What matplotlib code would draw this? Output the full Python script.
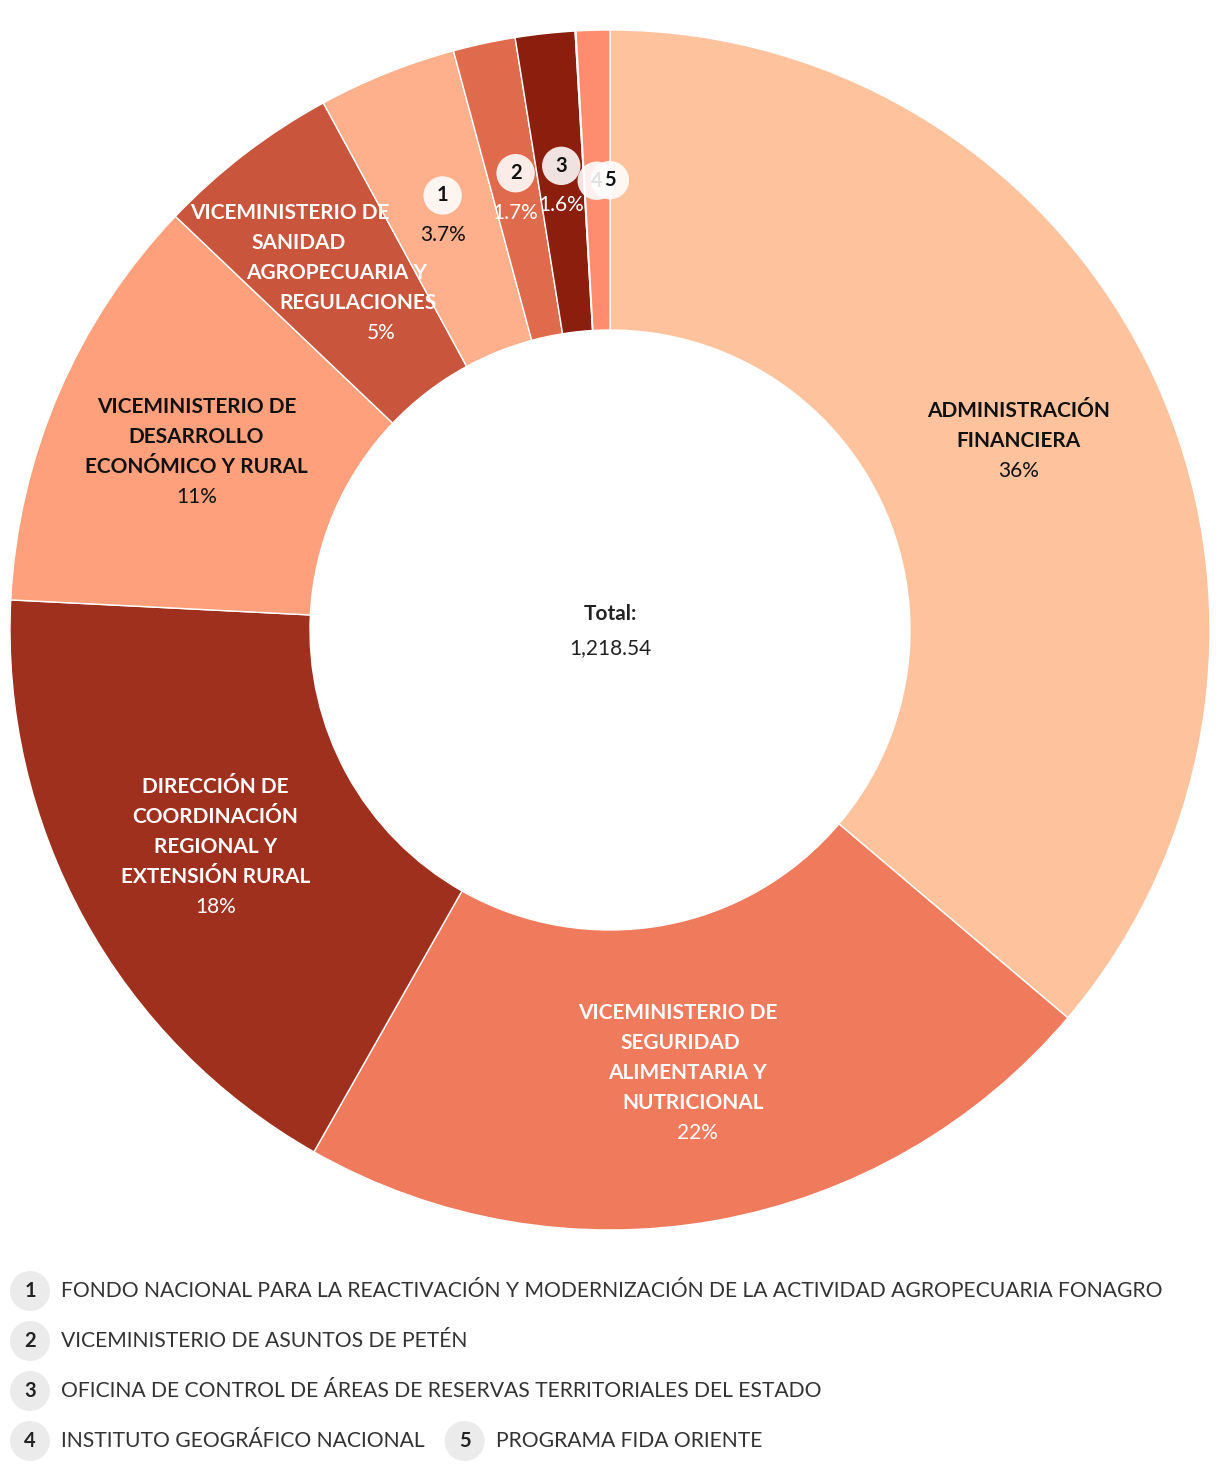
import matplotlib.pyplot as plt
import numpy as np
from matplotlib.patches import Circle

plt.rcParams["font.family"] = ["Lato", "DejaVu Sans"]

# slices, clockwise from 12 o'clock
names = [
    "ADMINISTRACIÓN FINANCIERA",
    "VICEMINISTERIO DE SEGURIDAD ALIMENTARIA Y NUTRICIONAL",
    "DIRECCIÓN DE COORDINACIÓN REGIONAL Y EXTENSIÓN RURAL",
    "VICEMINISTERIO DE DESARROLLO ECONÓMICO Y RURAL",
    "VICEMINISTERIO DE SANIDAD AGROPECUARIA Y REGULACIONES",
    "FONDO NACIONAL PARA LA REACTIVACIÓN Y MODERNIZACIÓN DE LA ACTIVIDAD AGROPECUARIA FONAGRO",
    "VICEMINISTERIO DE ASUNTOS DE PETÉN",
    "OFICINA DE CONTROL DE ÁREAS DE RESERVAS TERRITORIALES DEL ESTADO",
    "INSTITUTO GEOGRÁFICO NACIONAL",
    "PROGRAMA FIDA ORIENTE",
]
values = [440.94, 268.4, 214.3, 137.8, 60.5, 45.4, 20.4, 19.5, 0.3, 11.0]
# wrapped text inside the big slices (None -> numbered badge + legend)
inner_labels = [
    "ADMINISTRACIÓN\nFINANCIERA",
    "VICEMINISTERIO DE\nSEGURIDAD\nALIMENTARIA Y\nNUTRICIONAL",
    "DIRECCIÓN DE\nCOORDINACIÓN\nREGIONAL Y\nEXTENSIÓN RURAL",
    "VICEMINISTERIO DE\nDESARROLLO\nECONÓMICO Y RURAL",
    "VICEMINISTERIO DE\nSANIDAD\nAGROPECUARIA Y\nREGULACIONES",
    None, None, None, None, None,
]
total_label = "1,218.54"

colors = ["#fec29d", "#f07a5c", "#a0301e", "#fda07b", "#c8553c",
          "#feaf8c", "#e06a4c", "#8c1e0e", "#fc8c6e", "#fe8c6e"]
text_colors = ["#111111", "white", "white", "#111111", "white",
               "#111111", "white", "white", "#111111", "#111111"]
# per-line horizontal nudges (px) so the text follows the slanted slices
line_shift = {1: [-11, -8, -1, 4, 9], 4: [-46, -38, 0, 22, 45]}

W, H = 1220, 1470
fig = plt.figure(figsize=(W / 100, H / 100), dpi=100)
ax = fig.add_axes([10 / W, (H - 1230) / H, 1200 / W, 1200 / H])
wedges, _ = ax.pie(values, colors=colors, startangle=90, counterclock=False,
                   radius=1, wedgeprops=dict(width=0.5, edgecolor="white", linewidth=1))
ax.set_xlim(-1, 1)
ax.set_ylim(-1, 1)
ax.set_aspect("equal")
ax.axis("off")

fs = 15
px = 1 / 600  # data units per pixel
step = 30 * px
total = sum(values)
num = 0
for i, w in enumerate(wedges):
    mid = np.deg2rad((w.theta1 + w.theta2) / 2)
    x, y = 0.75 * np.cos(mid), 0.75 * np.sin(mid)
    pct = values[i] / total * 100
    pct_txt = f"{pct:.2g}%"
    if inner_labels[i] is not None:
        lines = inner_labels[i].split("\n") + [pct_txt]
        shifts = line_shift.get(i, [0] * len(lines))
        top = y + (len(lines) - 1) / 2 * step
        for k, ln in enumerate(lines):
            ax.text(x + shifts[k] * px, top - k * step, ln, ha="center", va="center",
                    fontsize=fs, fontweight="normal" if k == len(lines) - 1 else "bold",
                    color=text_colors[i])
    else:
        num += 1
        if pct >= 1.5:
            cy = y + 0.028
            ax.text(x, y - 0.038, pct_txt, ha="center", va="center", fontsize=fs,
                    color=text_colors[i], zorder=3)
        else:
            cy = y
            x = x + 0.021
        # later badges sit on top of earlier ones
        ax.add_patch(Circle((x, cy), 0.032, facecolor="white", alpha=0.88,
                            edgecolor="none", zorder=4 + 2 * num))
        ax.text(x, cy, str(num), ha="center", va="center", fontsize=fs - 0.5,
                fontweight="bold", color="#111111", zorder=5 + 2 * num)

ax.text(0, 0.027, "Total:", ha="center", va="center", fontsize=fs,
        fontweight="bold", color="#222222")
ax.text(0, -0.03, total_label, ha="center", va="center", fontsize=fs,
        color="#222222")

# legend for the small slices
lax = fig.add_axes([0, 0, 1, 250 / H])
lax.set_xlim(0, W)
lax.set_ylim(H, H - 250)
lax.axis("off")
small = [i for i, lab in enumerate(inner_labels) if lab is None]
rows = [(1291, 30), (1341, 30), (1391, 30), (1441, 30), (1441, None)]
renderer = fig.canvas.get_renderer()
last_end = 0
for k, i in enumerate(small):
    ry, cx = rows[k]
    if cx is None:
        cx = last_end + 40
    lax.add_patch(Circle((cx, ry), 20, facecolor="#ebebeb", edgecolor="none"))
    lax.text(cx, ry, str(k + 1), ha="center", va="center", fontsize=fs - 0.5,
             fontweight="bold", color="#222222")
    t = lax.text(cx + 31, ry, names[i], ha="left", va="center", fontsize=fs + 0.2,
                 color="#333333")
    bb = t.get_window_extent(renderer)
    last_end = bb.x1

fig.savefig("out.png", dpi=100)
